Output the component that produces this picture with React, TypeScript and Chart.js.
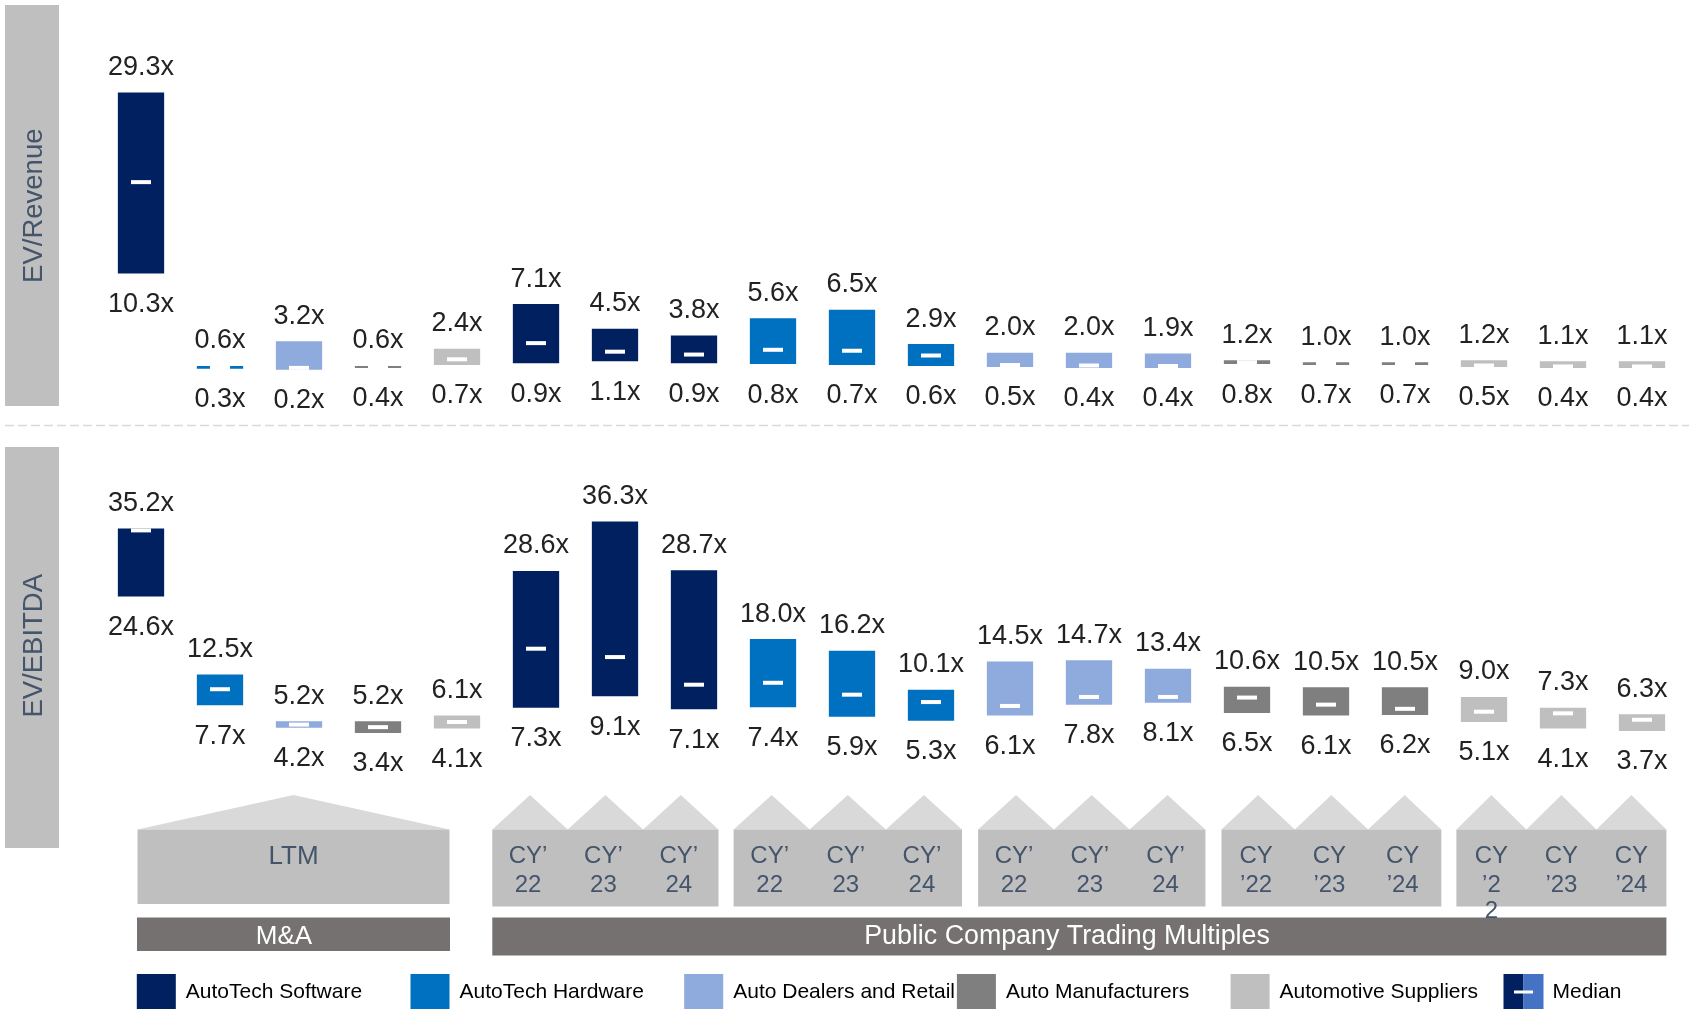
import React, { useEffect, useRef } from 'react';
import { Chart, registerables } from 'chart.js';

Chart.register(...registerables);

const W = 1689;
const H = 1009;
const FONT = '"Liberation Sans", Arial, Helvetica, sans-serif';

// ---------- data ----------
const categories = [
  'M&A LTM AutoTech Software', 'M&A LTM AutoTech Hardware', 'M&A LTM Auto Dealers and Retail',
  'M&A LTM Auto Manufacturers', 'M&A LTM Automotive Suppliers',
  'Software CY22', 'Software CY23', 'Software CY24',
  'Hardware CY22', 'Hardware CY23', 'Hardware CY24',
  'Dealers CY22', 'Dealers CY23', 'Dealers CY24',
  'Manufacturers CY22', 'Manufacturers CY23', 'Manufacturers CY24',
  'Suppliers CY22', 'Suppliers CY23', 'Suppliers CY24',
];
const segmentNames = ['AutoTech Software', 'AutoTech Hardware', 'Auto Dealers and Retail', 'Auto Manufacturers', 'Automotive Suppliers'];
const segmentColors = ['#002060', '#0070C0', '#8FAADC', '#7F7F7F', '#BFBFBF'];
const categorySegment = [0, 1, 2, 3, 4, 0, 0, 0, 1, 1, 1, 2, 2, 2, 3, 3, 3, 4, 4, 4];

const revLow = [10.3, 0.3, 0.2, 0.4, 0.7, 0.9, 1.1, 0.9, 0.8, 0.7, 0.6, 0.5, 0.4, 0.4, 0.8, 0.7, 0.7, 0.5, 0.4, 0.4];
const revHigh = [29.3, 0.6, 3.2, 0.6, 2.4, 7.1, 4.5, 3.8, 5.6, 6.5, 2.9, 2.0, 2.0, 1.9, 1.2, 1.0, 1.0, 1.2, 1.1, 1.1];
const revMedian = [19.9, 0.45, 0.4, 0.5, 1.3, 3.0, 2.1, 1.8, 2.3, 2.2, 1.7, 0.7, 0.65, 0.6, 1.0, 0.85, 0.85, 0.65, 0.55, 0.55];

const ebitdaLow = [24.6, 7.7, 4.2, 3.4, 4.1, 7.3, 9.1, 7.1, 7.4, 5.9, 5.3, 6.1, 7.8, 8.1, 6.5, 6.1, 6.2, 5.1, 4.1, 3.7];
const ebitdaHigh = [35.2, 12.5, 5.2, 5.2, 6.1, 28.6, 36.3, 28.7, 18.0, 16.2, 10.1, 14.5, 14.7, 13.4, 10.6, 10.5, 10.5, 9.0, 7.3, 6.3];
const ebitdaMedian = [34.9, 10.2, 4.7, 4.3, 5.1, 16.5, 15.2, 10.9, 11.2, 9.35, 8.2, 7.6, 9.0, 9.0, 8.9, 7.8, 7.15, 6.7, 6.45, 5.45];

const panelLabels = ['EV/Revenue', 'EV/EBITDA'];
const ltmLabel = 'LTM';
const groupPeriodLabels = [
  [['CY’', '22'], ['CY’', '23'], ['CY’', '24']],
  [['CY’', '22'], ['CY’', '23'], ['CY’', '24']],
  [['CY’', '22'], ['CY’', '23'], ['CY’', '24']],
  [['CY', '’22'], ['CY', '’23'], ['CY', '’24']],
  [['CY', '’2', '2'], ['CY', '’23'], ['CY', '’24']],
];
const sectionLabels = ['M&A', 'Public Company Trading Multiples'];
const medianLabel = 'Median';

// ---------- layout (decoration) ----------
const TOP_ZERO = 371.7, TOP_PPU = 9.526;
const BOT_ZERO = 754.8, BOT_PPU = 6.43;
const groupX = [
  [492.3, 718.5],
  [733.6, 962.0],
  [978.1, 1205.4],
  [1221.5, 1441.3],
  [1456.4, 1666.4],
];
const legendBoxX = [136.8, 410.5, 684.2, 956.9, 1230.6];

const fmt = (v: number) => v.toFixed(1) + 'x';

const decorPlugin = {
  id: 'decor',
  beforeDatasetsDraw(chart: any) {
    const ctx: CanvasRenderingContext2D = chart.ctx;
    ctx.save();
    // side panels
    ctx.fillStyle = '#BFBFBF';
    ctx.fillRect(5, 5, 54, 401);
    ctx.fillRect(5, 447, 54, 401);
    ctx.fillStyle = '#44546A';
    ctx.font = `27.5px ${FONT}`;
    ctx.textAlign = 'center';
    ctx.textBaseline = 'middle';
    [[205.7, panelLabels[0]], [645.8, panelLabels[1]]].forEach(([cy, t]) => {
      ctx.save();
      ctx.translate(34, cy as number);
      ctx.rotate(-Math.PI / 2);
      ctx.fillText(t as string, 0, 0);
      ctx.restore();
    });
    // dashed separator
    ctx.strokeStyle = '#D9D9D9';
    ctx.lineWidth = 1.5;
    ctx.setLineDash([9, 4]);
    ctx.beginPath();
    ctx.moveTo(5, 425.5);
    ctx.lineTo(W, 425.5);
    ctx.stroke();
    ctx.setLineDash([]);

    // houses
    const drawHouse = (x0: number, x1: number, rTop: number, rBot: number, peak: number, n: number) => {
      ctx.fillStyle = '#D9D9D9';
      const w = (x1 - x0) / n;
      for (let k = 0; k < n; k++) {
        ctx.beginPath();
        ctx.moveTo(x0 + k * w, rTop);
        ctx.lineTo(x0 + (k + 0.5) * w, peak);
        ctx.lineTo(x0 + (k + 1) * w, rTop);
        ctx.closePath();
        ctx.fill();
      }
      ctx.fillStyle = '#BFBFBF';
      ctx.fillRect(x0, rTop, x1 - x0, rBot - rTop);
    };
    drawHouse(137.5, 449.5, 829.5, 904, 795, 1);
    ctx.fillStyle = '#44546A';
    ctx.font = `26px ${FONT}`;
    ctx.fillText(ltmLabel, 293.5, 857);
    groupX.forEach(([x0, x1], g) => {
      drawHouse(x0, x1, 829.5, 906.5, 795, 3);
      ctx.fillStyle = '#44546A';
      ctx.font = `24px ${FONT}`;
      const w = (x1 - x0) / 3;
      groupPeriodLabels[g].forEach((lines, k) => {
        const cx = x0 + (k + 0.5) * w - (g < 4 ? 2 : 0);
        lines.forEach((ln, j) => {
          if (j < 2) ctx.fillText(ln, cx, 856 + j * 29);
        });
      });
    });
    // section bars
    ctx.fillStyle = '#767171';
    ctx.fillRect(137, 917.5, 313, 33.5);
    ctx.fillRect(492.3, 917.5, 1174.1, 38);
    // wrapped third line of the first period label in the last group
    ctx.fillStyle = '#44546A';
    ctx.font = `24px ${FONT}`;
    groupPeriodLabels.forEach((grp, g) => {
      const [x0, x1] = groupX[g];
      const w = (x1 - x0) / 3;
      grp.forEach((lines, k) => {
        if (lines.length > 2) ctx.fillText(lines[2], x0 + (k + 0.5) * w, 911.5);
      });
    });
    ctx.fillStyle = '#FFFFFF';
    ctx.font = `26px ${FONT}`;
    ctx.fillText(sectionLabels[0], 284, 937);
    ctx.font = `26.8px ${FONT}`;
    ctx.fillText(sectionLabels[1], 1067, 937);
    ctx.restore();
  },
  afterDatasetsDraw(chart: any) {
    const ctx: CanvasRenderingContext2D = chart.ctx;
    const meta = chart.getDatasetMeta(0);
    const yT = chart.scales.yTop;
    const yB = chart.scales.yBot;
    ctx.save();
    ctx.fillStyle = '#222222';
    ctx.font = `27px ${FONT}`;
    ctx.textAlign = 'center';
    ctx.textBaseline = 'middle';
    categories.forEach((_, i) => {
      const x = meta.data[i].x;
      ctx.fillText(fmt(revHigh[i]), x, yT.getPixelForValue(revHigh[i]) - 25);
      ctx.fillText(fmt(revLow[i]), x, yT.getPixelForValue(revLow[i]) + 31);
      ctx.fillText(fmt(ebitdaHigh[i]), x, yB.getPixelForValue(ebitdaHigh[i]) - 25);
      ctx.fillText(fmt(ebitdaLow[i]), x, yB.getPixelForValue(ebitdaLow[i]) + 31);
    });
    // legend
    ctx.textAlign = 'left';
    ctx.font = `21px ${FONT}`;
    segmentNames.forEach((name, s) => {
      ctx.fillStyle = segmentColors[s];
      ctx.fillRect(legendBoxX[s], 974, 39, 35);
      ctx.fillStyle = '#000000';
      ctx.fillText(name, legendBoxX[s] + 49, 992.5);
    });
    ctx.fillStyle = '#002060';
    ctx.fillRect(1503.5, 974, 20, 35);
    ctx.fillStyle = '#4472C4';
    ctx.fillRect(1523.5, 974, 20, 35);
    ctx.fillStyle = '#FFFFFF';
    ctx.fillRect(1514, 990.5, 19, 3);
    ctx.fillStyle = '#000000';
    ctx.fillText(medianLabel, 1552.5, 992.5);
    ctx.restore();
  },
};

const fixRange = (min: number, max: number) => (scale: any) => {
  scale.min = min;
  scale.max = max;
};

export default function App() {
  const ref = useRef<HTMLCanvasElement>(null);
  useEffect(() => {
    const canvas = ref.current;
    if (!canvas) return;
    const barColors = categorySegment.map((s) => segmentColors[s]);
    const topMin = -(H - TOP_ZERO) / TOP_PPU, topMax = TOP_ZERO / TOP_PPU;
    const botMin = -(H - BOT_ZERO) / BOT_PPU, botMax = BOT_ZERO / BOT_PPU;
    const medianStyle = {
      type: 'line',
      showLine: false,
      pointStyle: 'line',
      pointRadius: 10,
      pointHoverRadius: 10,
      pointBorderColor: '#FFFFFF',
      pointBackgroundColor: '#FFFFFF',
      pointBorderWidth: 4,
      clip: false,
      order: 1,
    };
    const barStyle = {
      type: 'bar',
      backgroundColor: barColors,
      borderWidth: 0,
      grouped: false,
      barPercentage: 0.586,
      categoryPercentage: 1,
      order: 2,
    };
    const chart = new Chart(canvas, {
      type: 'bar',
      data: {
        labels: categories,
        datasets: [
          { ...barStyle, label: 'EV/Revenue', data: categories.map((_, i) => [revLow[i], revHigh[i]]), yAxisID: 'yTop' } as any,
          { ...barStyle, label: 'EV/EBITDA', data: categories.map((_, i) => [ebitdaLow[i], ebitdaHigh[i]]), yAxisID: 'yBot' } as any,
          { ...medianStyle, label: 'Median EV/Revenue', data: revMedian, yAxisID: 'yTop' } as any,
          { ...medianStyle, label: 'Median EV/EBITDA', data: ebitdaMedian, yAxisID: 'yBot' } as any,
        ],
      },
      options: {
        responsive: false,
        animation: false,
        devicePixelRatio: 1,
        layout: { autoPadding: false, padding: { left: 101.5, right: 7.5, top: 0, bottom: 0 } },
        plugins: { legend: { display: false }, tooltip: { enabled: false } },
        events: [],
        scales: {
          x: { type: 'category', display: false, offset: true },
          yTop: {
            type: 'linear',
            display: false,
            bounds: 'data',
            min: topMin,
            max: topMax,
            afterBuildTicks: fixRange(topMin, topMax),
          },
          yBot: {
            type: 'linear',
            display: false,
            bounds: 'data',
            min: botMin,
            max: botMax,
            afterBuildTicks: fixRange(botMin, botMax),
          },
        },
      } as any,
      plugins: [decorPlugin],
    });
    return () => chart.destroy();
  }, []);
  return (
    <div style={{ position: 'absolute', left: 0, top: 0, width: W, height: H, background: '#FFFFFF' }}>
      <canvas ref={ref} width={W} height={H} style={{ display: 'block', width: W, height: H }} />
    </div>
  );
}
